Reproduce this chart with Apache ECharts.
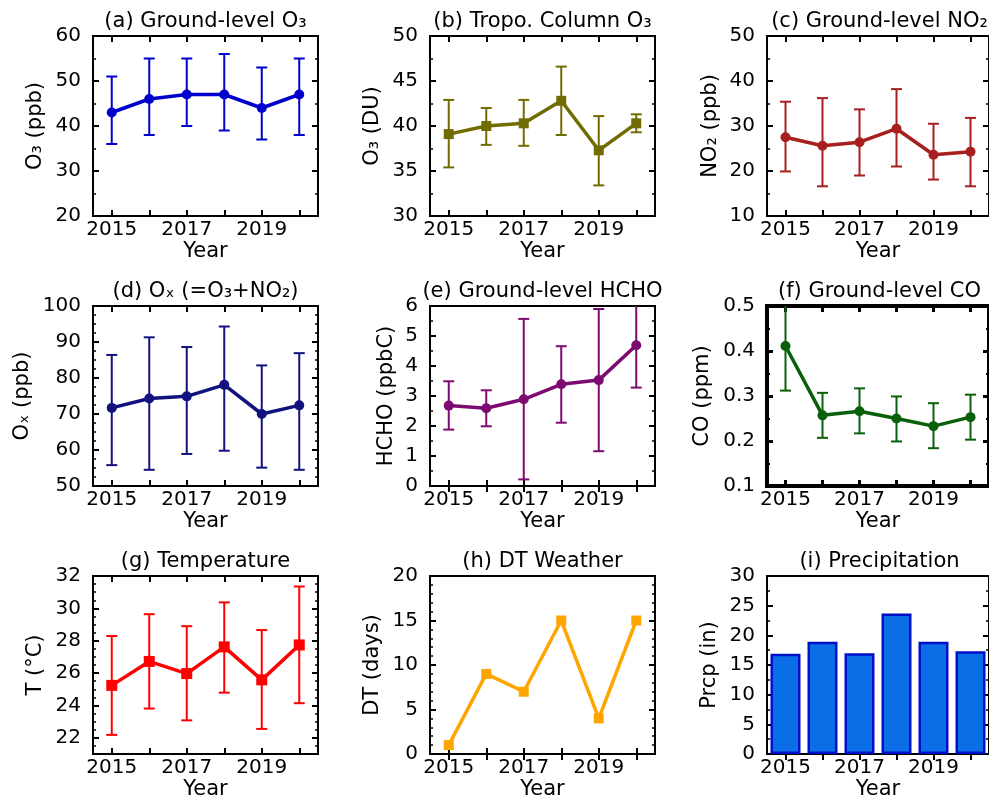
<!DOCTYPE html>
<html><head><meta charset="utf-8">
<script src="https://cdn.jsdelivr.net/npm/echarts@6/dist/echarts.min.js"></script>
<style>html,body{margin:0;padding:0;background:#fff}#c{width:989px;height:801px}</style>
</head><body><div id="c"></div>
<script>
// ---- data ----
const years = ['2015','2016','2017','2018','2019','2020'];
const xTickLabels = ['2015','2017','2019'];

const o3Ground     = [43, 46, 47, 47, 44, 47];
const o3GroundLow  = [36, 38, 40, 39, 37, 38];
const o3GroundHigh = [51, 55, 55, 56, 53, 55];
const o3GroundTicks = [20, 30, 40, 50, 60];

const o3Column     = [39.1, 40.0, 40.3, 42.8, 37.3, 40.3];
const o3ColumnLow  = [35.4, 37.9, 37.8, 39.0, 33.4, 39.3];
const o3ColumnHigh = [42.9, 42.0, 42.9, 46.6, 41.1, 41.3];
const o3ColumnTicks = [30, 35, 40, 45, 50];

const no2     = [27.5, 25.6, 26.4, 29.4, 23.6, 24.3];
const no2Low  = [19.9, 16.6, 19.0, 21.0, 18.1, 16.6];
const no2High = [35.4, 36.2, 33.7, 38.2, 30.5, 31.8];
const no2Ticks = [10, 20, 30, 40, 50];

const ox     = [71.7, 74.3, 74.9, 78.1, 70.0, 72.4];
const oxLow  = [55.8, 54.5, 58.9, 59.8, 55.1, 54.5];
const oxHigh = [86.4, 91.3, 88.6, 94.3, 83.5, 86.9];
const oxTicks = [50, 60, 70, 80, 90, 100];

const hcho     = [2.68, 2.59, 2.89, 3.39, 3.53, 4.69];
const hchoLow  = [1.88, 1.99, 0.22, 2.11, 1.16, 3.28];
const hchoHigh = [3.49, 3.19, 5.57, 4.66, 5.90, 6.10];
const hchoTicks = [0, 1, 2, 3, 4, 5, 6];

const co     = [0.411, 0.257, 0.266, 0.250, 0.233, 0.253];
const coLow  = [0.312, 0.207, 0.217, 0.199, 0.184, 0.203];
const coHigh = [0.511, 0.307, 0.317, 0.299, 0.284, 0.303];
const coTicks = [0.1, 0.2, 0.3, 0.4, 0.5];

const temp     = [25.24, 26.72, 25.97, 27.62, 25.58, 27.74];
const tempLow  = [22.18, 23.81, 23.08, 24.79, 22.55, 24.14];
const tempHigh = [28.29, 29.64, 28.90, 30.37, 28.66, 31.35];
const tempTicks = [22, 24, 26, 28, 30, 32];

const dtDays = [1, 9, 7, 15, 4, 15];
const dtTicks = [0, 5, 10, 15, 20];

const prcp = [16.9, 18.9, 17.0, 23.7, 18.9, 17.3];
const prcpTicks = [0, 5, 10, 15, 20, 25, 30];

// ---- panel configuration ----
const panels = [
  {title:'(a) Ground-level O₃', yName:'O₃ (ppb)', v:o3Ground, lo:o3GroundLow, hi:o3GroundHigh, ticks:o3GroundTicks, min:20, max:60, minor:5, color:'#0000cd', symbol:'circle', size:10, gap:47},
  {title:'(b) Tropo. Column O₃', yName:'O₃ (DU)', v:o3Column, lo:o3ColumnLow, hi:o3ColumnHigh, ticks:o3ColumnTicks, min:30, max:50, minor:2.5, color:'#716c00', symbol:'rect', size:10, gap:47},
  {title:'(c) Ground-level NO₂', yName:'NO₂ (ppb)', v:no2, lo:no2Low, hi:no2High, ticks:no2Ticks, min:10, max:50, minor:5, color:'#a81f1f', symbol:'circle', size:10, gap:46},
  {title:'(d) Oₓ (=O₃+NO₂)', yName:'Oₓ (ppb)', v:ox, lo:oxLow, hi:oxHigh, ticks:oxTicks, min:50, max:100, minor:2.5, color:'#12127f', symbol:'circle', size:10, gap:60},
  {title:'(e) Ground-level HCHO', yName:'HCHO (ppbC)', v:hcho, lo:hchoLow, hi:hchoHigh, ticks:hchoTicks, min:0, max:6, minor:0.5, color:'#7c0a70', symbol:'circle', size:10, gap:33},
  {title:'(f) Ground-level CO', yName:'CO (ppm)', v:co, lo:coLow, hi:coHigh, ticks:coTicks, min:0.1, max:0.5, minor:0.05, color:'#0a5f0a', symbol:'circle', size:10, gap:54, border:4, tickW:3},
  {title:'(g) Temperature', yName:'T (°C)', v:temp, lo:tempLow, hi:tempHigh, ticks:tempTicks, min:21, max:32, minor:0.5, color:'#ff0000', symbol:'rect', size:11, gap:47},
  {title:'(h) DT Weather', yName:'DT (days)', v:dtDays, ticks:dtTicks, min:0, max:20, minor:1, color:'#ffa500', symbol:'rect', size:10, gap:47},
  {title:'(i) Precipitation', yName:'Prcp (in)', v:prcp, ticks:prcpTicks, min:0, max:30, minor:2.5, bar:true, gap:47}
];

const FONT = 'DejaVu Sans';
const colLeft = [93, 430, 767];
const rowTop = [36, 306, 576];
const W = 225, H = 180;
const txt = {fontSize:20, fontFamily:FONT, color:'#000'};
const nameTxt = {fontSize:21, fontFamily:FONT, color:'#000'};

const option = {animation:false, backgroundColor:'#fff', title:[], grid:[], xAxis:[], yAxis:[], series:[]};

panels.forEach((p, k) => {
  const r = Math.floor(k/3), c = k % 3;
  const tw = p.tickW || 2;
  option.grid.push({left:colLeft[c], top:rowTop[r], width:W, height:H, show:true,
    borderColor:'#000', borderWidth:p.border || 2, backgroundColor:'rgba(0,0,0,0)'});
  option.title.push({text:p.title, left:colLeft[c] + W/2, textAlign:'center', top:rowTop[r] - 25, padding:0,
    textStyle:{fontSize:21, fontFamily:FONT, color:'#000', fontWeight:'normal'}});
  const xt = {show:true, inside:true, alignWithLabel:true, interval:0, length:6, lineStyle:{color:'#000', width:tw}};
  option.xAxis.push({gridIndex:k, type:'category', data:years, position:'bottom', boundaryGap:true,
    axisLine:{show:false}, axisTick:xt, splitLine:{show:false},
    axisLabel:Object.assign({interval:0, margin:4, formatter:v => xTickLabels.includes(v) ? v : ''}, txt),
    name:'Year', nameLocation:'middle', nameGap:25, nameTextStyle:nameTxt});
  option.xAxis.push({gridIndex:k, type:'category', data:years, position:'top', boundaryGap:true,
    axisLine:{show:false}, axisTick:xt, axisLabel:{show:false}, splitLine:{show:false}});
  ['left','right'].forEach(pos => {
    const major = {gridIndex:k, type:'value', position:pos, min:p.min, max:p.max, interval:p.minor,
      axisLine:{show:false, onZero:false}, splitLine:{show:false},
      axisTick:{show:true, inside:true, length:6, customValues:p.ticks, lineStyle:{color:'#000', width:tw}},
      axisLabel: pos === 'left' ? Object.assign({customValues:p.ticks, margin:12,
        formatter:v => String(Math.round(v*100)/100)}, txt) : {show:false}};
    if (pos === 'left') {
      Object.assign(major, {name:p.yName, nameLocation:'middle', nameRotate:90, nameGap:p.gap, nameTextStyle:nameTxt});
    }
    option.yAxis.push(major);
    option.yAxis.push({gridIndex:k, type:'value', position:pos, min:p.min, max:p.max, interval:p.minor,
      axisLine:{show:false, onZero:false}, splitLine:{show:false}, axisLabel:{show:false},
      axisTick:{show:true, inside:true, length:3, lineStyle:{color:'#000', width:Math.max(1.5, tw-1)}}});
  });
  const xi = 2*k, yi = 4*k;
  if (p.bar) {
    option.series.push({type:'bar', xAxisIndex:xi, yAxisIndex:yi, data:p.v, barWidth:30,
      itemStyle:{color:'#0a6fe6', borderColor:'#0010c8', borderWidth:2.5}});
    return;
  }
  if (p.lo) {
    const col = p.color;
    option.series.push({type:'custom', xAxisIndex:xi, yAxisIndex:yi, clip:true, z:2, silent:true,
      data: years.map((y, i) => [i, p.lo[i], p.hi[i]]),
      renderItem: (params, api) => {
        const a = api.coord([api.value(0), api.value(1)]);
        const b = api.coord([api.value(0), api.value(2)]);
        const st = {stroke:col, lineWidth:2};
        const cap = 5.5;
        return {type:'group', children:[
          {type:'line', shape:{x1:a[0], y1:a[1], x2:b[0], y2:b[1]}, style:st},
          {type:'line', shape:{x1:a[0]-cap, y1:a[1], x2:a[0]+cap, y2:a[1]}, style:st},
          {type:'line', shape:{x1:b[0]-cap, y1:b[1], x2:b[0]+cap, y2:b[1]}, style:st}
        ]};
      }});
  }
  option.series.push({type:'line', xAxisIndex:xi, yAxisIndex:yi, data:p.v, z:3,
    symbol:p.symbol, symbolSize:p.size, showSymbol:true,
    lineStyle:{color:p.color, width:3.5}, itemStyle:{color:p.color}});
});

const chart = echarts.init(document.getElementById('c'), null, {renderer:'canvas'});
chart.setOption(option);
</script></body></html>
